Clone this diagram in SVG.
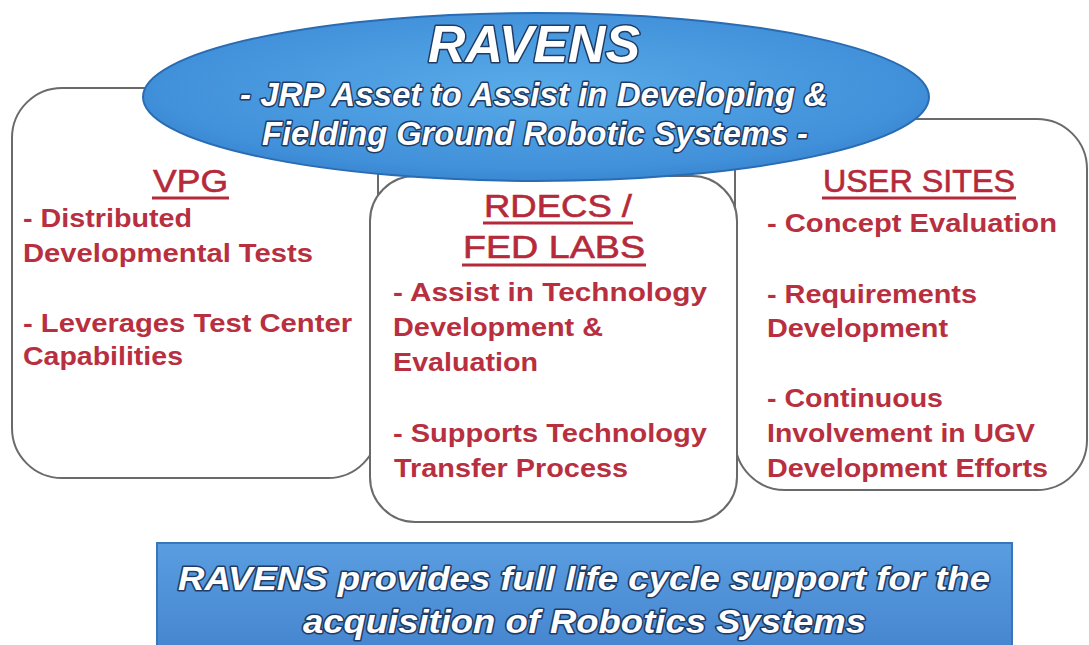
<svg xmlns="http://www.w3.org/2000/svg" width="1089" height="645" viewBox="0 0 1089 645">
<defs>
<radialGradient id="eg" cx="50%" cy="45%" r="60%">
<stop offset="0" stop-color="#58abe8"/>
<stop offset="0.8" stop-color="#4190da"/>
<stop offset="1" stop-color="#3580cc"/>
</radialGradient>
<linearGradient id="bg" x1="0" y1="0" x2="0" y2="1">
<stop offset="0" stop-color="#5a9de0"/>
<stop offset="1" stop-color="#4585cf"/>
</linearGradient>
</defs>
<style>
.box{fill:#ffffff;stroke:#6a6a6a;stroke-width:2}
.hd{font-family:"Liberation Sans",Arial,sans-serif;font-size:32px;fill:#b52a3a;stroke:#b52a3a;stroke-width:0.6}
.ul{stroke:#b52a3a;stroke-width:3}
.tx{font-family:"Liberation Sans",Arial,sans-serif;font-size:25px;font-weight:bold;fill:#b83040}
.wt{font-family:"Liberation Sans",Arial,sans-serif;font-style:italic;font-weight:bold;fill:#ffffff;stroke:#1f3c66;stroke-width:3;paint-order:stroke;stroke-linejoin:round}
</style>
<rect width="1089" height="645" fill="#ffffff"/>

<g id="vpg">
<rect class="box" x="12" y="88" width="366" height="390" rx="50"/>
<text class="hd" x="153" y="192" textLength="75" lengthAdjust="spacingAndGlyphs">VPG</text>
<line class="ul" x1="152" y1="198" x2="229" y2="198"/>
<text class="tx" x="23" y="227" textLength="169" lengthAdjust="spacingAndGlyphs">- Distributed</text>
<text class="tx" x="23" y="262" textLength="290" lengthAdjust="spacingAndGlyphs">Developmental Tests</text>
<text class="tx" x="23" y="332" textLength="329" lengthAdjust="spacingAndGlyphs">- Leverages Test Center</text>
<text class="tx" x="23" y="365" textLength="160" lengthAdjust="spacingAndGlyphs">Capabilities</text>
</g>

<g id="user-sites">
<rect class="box" x="735" y="119" width="352" height="371" rx="50"/>
<text class="hd" x="823" y="192" textLength="192" lengthAdjust="spacingAndGlyphs">USER SITES</text>
<line class="ul" x1="822" y1="198" x2="1016" y2="198"/>
<text class="tx" x="767" y="232" textLength="290" lengthAdjust="spacingAndGlyphs">- Concept Evaluation</text>
<text class="tx" x="767" y="303" textLength="210" lengthAdjust="spacingAndGlyphs">- Requirements</text>
<text class="tx" x="767" y="337" textLength="181" lengthAdjust="spacingAndGlyphs">Development</text>
<text class="tx" x="767" y="407" textLength="176" lengthAdjust="spacingAndGlyphs">- Continuous</text>
<text class="tx" x="767" y="442" textLength="268" lengthAdjust="spacingAndGlyphs">Involvement in UGV</text>
<text class="tx" x="767" y="477" textLength="281" lengthAdjust="spacingAndGlyphs">Development Efforts</text>
</g>

<g id="rdecs">
<rect class="box" x="370" y="176" width="367" height="346" rx="45"/>
<text class="hd" x="484" y="217" textLength="148" lengthAdjust="spacingAndGlyphs">RDECS /</text>
<line class="ul" x1="483" y1="223" x2="633" y2="223"/>
<text class="hd" x="463" y="258" textLength="182" lengthAdjust="spacingAndGlyphs">FED LABS</text>
<line class="ul" x1="462" y1="265" x2="646" y2="265"/>
<text class="tx" x="393" y="301" textLength="314" lengthAdjust="spacingAndGlyphs">- Assist in Technology</text>
<text class="tx" x="393" y="336" textLength="210" lengthAdjust="spacingAndGlyphs">Development &amp;</text>
<text class="tx" x="393" y="371" textLength="145" lengthAdjust="spacingAndGlyphs">Evaluation</text>
<text class="tx" x="393" y="442" textLength="314" lengthAdjust="spacingAndGlyphs">- Supports Technology</text>
<text class="tx" x="394" y="477" textLength="234" lengthAdjust="spacingAndGlyphs">Transfer Process</text>
</g>

<g id="ravens">
<ellipse cx="536" cy="97" rx="393" ry="84" fill="url(#eg)" stroke="#2a6cb2" stroke-width="2"/>
<text class="wt" x="428" y="62" font-size="52" textLength="212" lengthAdjust="spacingAndGlyphs">RAVENS</text>
<text class="wt" x="240" y="106" font-size="34" textLength="588" lengthAdjust="spacingAndGlyphs">- JRP Asset to Assist in Developing &amp;</text>
<text class="wt" x="262" y="145" font-size="34" textLength="546" lengthAdjust="spacingAndGlyphs">Fielding Ground Robotic Systems -</text>
</g>

<g id="summary">
<rect x="157" y="543" width="855" height="110" fill="url(#bg)" stroke="#3a74bb" stroke-width="2"/>
<text class="wt" x="178" y="590" font-size="33" textLength="812" lengthAdjust="spacingAndGlyphs">RAVENS provides full life cycle support for the</text>
<text class="wt" x="303" y="633" font-size="33" textLength="563" lengthAdjust="spacingAndGlyphs">acquisition of Robotics Systems</text>
</g>

<g id="connectors"></g>
</svg>
